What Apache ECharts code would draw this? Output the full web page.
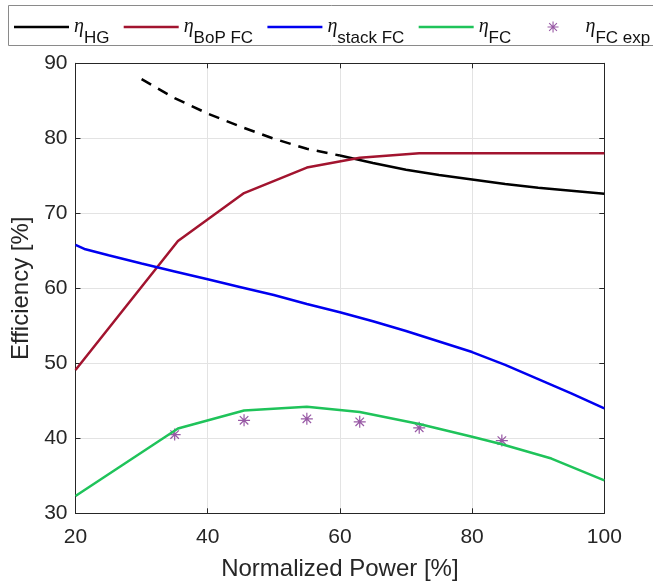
<!DOCTYPE html>
<html>
<head>
<meta charset="utf-8">
<script src="https://cdn.jsdelivr.net/npm/echarts@6/dist/echarts.min.js"></script>
<style>
  html, body { margin: 0; padding: 0; background: #ffffff; }
  #chart { width: 653px; height: 587px; }
</style>
</head>
<body>
<div id="chart"></div>
<script>
// Tick values of both axes
const powerTicks = [20, 40, 60, 80, 100];
const effTicks = [30, 40, 50, 60, 70, 80, 90];

// Heat generator efficiency: measured range (solid) and extrapolated part (dashed)
const hgPower = [60, 62, 65, 70, 75, 80, 85, 90, 95, 100];
const hgEff = [77.7, 77.3, 76.7, 75.8, 75.1, 74.5, 73.9, 73.4, 73.0, 72.6];
const hgExtraPower = [30, 35, 40, 45, 50, 55, 60];
const hgExtraEff = [87.9, 85.35, 83.3, 81.55, 79.95, 78.6, 77.7];

// Balance-of-plant efficiency of the fuel cell
const bopPower = [20, 35.5, 45.5, 55, 63, 72, 84.5, 100];
const bopEff = [49.1, 66.3, 72.7, 76.1, 77.4, 78.0, 78.0, 78.0];

// Stack efficiency of the fuel cell
const stackPower = [20, 21.5, 25, 30, 35, 40, 45, 50, 55, 60, 65, 70, 75, 80, 85, 90, 95, 100];
const stackEff = [65.8, 65.2, 64.4, 63.3, 62.25, 61.2, 60.15, 59.1, 57.9, 56.8, 55.6, 54.3, 52.9, 51.5, 49.8, 47.9, 46.0, 44.0];

// Overall fuel cell efficiency (model)
const fcPower = [20, 35.5, 45.5, 55, 63, 72, 80, 84.5, 92, 100];
const fcEff = [32.3, 41.3, 43.7, 44.2, 43.5, 41.9, 40.2, 39.2, 37.3, 34.4];

// Overall fuel cell efficiency (experiment)
const expPower = [35, 45.5, 55, 63, 72, 84.5];
const expEff = [40.5, 42.4, 42.6, 42.2, 41.4, 39.7];

// Legend entries (subscripts of the efficiency symbol)
const legendNames = ['HG', 'BoP FC', 'stack FC', 'FC', 'FC exp'];

const pairs = (xs, ys) => xs.map((x, i) => [x, ys[i]]);

// Eight-armed asterisk marker built from thin bars
const asteriskBody =
  'M-0.6,-6 L0.6,-6 L0.6,6 L-0.6,6 Z ' +
  'M-6,-0.6 L6,-0.6 L6,0.6 L-6,0.6 Z ' +
  'M-3.82,-4.67 L4.67,3.82 L3.82,4.67 L-4.67,-3.82 Z ' +
  'M3.82,-4.67 L4.67,-3.82 L-3.82,4.67 L-4.67,3.82 Z';
const asterisk = 'path://' + asteriskBody;
// Same marker centred in a wide legend slot (two hair-thin end points set the slot width)
const asteriskLegend = 'path://' + asteriskBody +
  ' M-30,0 L-29.99,0 L-29.99,0.01 Z M30,0 L29.99,0 L29.99,0.01 Z';

// Plain line sample for the legend
const lineIcon = 'path://M0,0 L55,0 L55,2.5 L0,2.5 Z';

const inkColor = '#262626';
const fontFamily = '"Liberation Sans", Arial, Helvetica, sans-serif';

const axisCommon = {
  type: 'value',
  axisLine: { show: true, lineStyle: { color: inkColor, width: 1 } },
  axisTick: { show: true, inside: true, length: 5, lineStyle: { color: inkColor, width: 1 } },
  minorTick: { show: false }
};

const chart = echarts.init(document.getElementById('chart'), null, { renderer: 'canvas' });

chart.setOption({
  animation: false,
  backgroundColor: '#ffffff',
  grid: {
    left: 75.5, right: 48.7, top: 63.3, bottom: 73.7,
    containLabel: false,
    outerBoundsMode: 'none'
  },
  // Frame around the legend row; it runs past the right edge of the canvas
  graphic: [{
    type: 'rect', silent: true, z: 0,
    shape: { x: 8.5, y: 5.5, width: 680, height: 40 },
    style: { fill: 'none', stroke: '#8a8a8a', lineWidth: 1 }
  }],
  legend: {
    left: 8, top: 16,
    width: 800,
    padding: [1, 6, 1, 6],
    borderWidth: 0,
    itemWidth: 55, itemHeight: 11, itemGap: 14,
    selectedMode: false,
    data: legendNames.map(n => ({ name: n, icon: n === 'FC exp' ? asteriskLegend : lineIcon })),
    formatter: name => '{e|η}{s|' + name + '}{g| }',
    textStyle: {
      color: '#111111',
      rich: {
        e: { fontFamily: '"Liberation Serif", "DejaVu Serif", serif', fontStyle: 'italic', fontSize: 20, verticalAlign: 'middle', color: '#111111' },
        s: { fontFamily: fontFamily, fontSize: 17, verticalAlign: 'bottom', color: '#111111' },
        g: { fontSize: 1, lineHeight: 40 }
      }
    }
  },
  xAxis: [
    Object.assign({}, axisCommon, {
      position: 'bottom',
      min: powerTicks[0], max: powerTicks[powerTicks.length - 1],
      interval: powerTicks[1] - powerTicks[0],
      name: 'Normalized Power [%]',
      nameLocation: 'middle', nameGap: 44,
      nameTextStyle: { fontFamily: fontFamily, fontSize: 24, color: inkColor },
      axisLabel: { margin: 13, fontFamily: fontFamily, fontSize: 21, color: inkColor },
      splitLine: { show: true, lineStyle: { color: '#e3e3e3', width: 1 } }
    }),
    Object.assign({}, axisCommon, {
      position: 'top',
      min: powerTicks[0], max: powerTicks[powerTicks.length - 1],
      interval: powerTicks[1] - powerTicks[0],
      axisLabel: { show: false },
      splitLine: { show: false }
    })
  ],
  yAxis: [
    Object.assign({}, axisCommon, {
      position: 'left',
      min: effTicks[0], max: effTicks[effTicks.length - 1],
      interval: effTicks[1] - effTicks[0],
      name: 'Efficiency [%]',
      nameLocation: 'middle', nameGap: 37,
      nameTextStyle: { fontFamily: fontFamily, fontSize: 24, color: inkColor },
      axisLabel: { margin: 8, fontFamily: fontFamily, fontSize: 21, color: inkColor },
      splitLine: { show: true, lineStyle: { color: '#e3e3e3', width: 1 } }
    }),
    Object.assign({}, axisCommon, {
      position: 'right',
      min: effTicks[0], max: effTicks[effTicks.length - 1],
      interval: effTicks[1] - effTicks[0],
      axisLabel: { show: false },
      splitLine: { show: false }
    })
  ],
  series: [
    {
      name: 'HG', type: 'line', data: pairs(hgPower, hgEff),
      symbol: 'none', color: '#000000',
      lineStyle: { color: '#000000', width: 2.5 }
    },
    {
      name: 'HG', type: 'line', data: pairs(hgExtraPower, hgExtraEff),
      symbol: 'none', color: '#000000',
      lineStyle: { color: '#000000', width: 2.5, type: [11, 8] }
    },
    {
      name: 'BoP FC', type: 'line', data: pairs(bopPower, bopEff),
      symbol: 'none', color: '#A2142F',
      lineStyle: { color: '#A2142F', width: 2.5 }
    },
    {
      name: 'stack FC', type: 'line', data: pairs(stackPower, stackEff),
      symbol: 'none', color: '#0000F0',
      lineStyle: { color: '#0000F0', width: 2.5 }
    },
    {
      name: 'FC', type: 'line', data: pairs(fcPower, fcEff),
      symbol: 'none', color: '#1FC35A',
      lineStyle: { color: '#1FC35A', width: 2.5 }
    },
    {
      name: 'FC exp', type: 'scatter', data: pairs(expPower, expEff),
      symbol: asterisk, symbolSize: 12, color: '#7E2F8E',
      itemStyle: { color: '#7E2F8E' }
    }
  ]
});
</script>
</body>
</html>
